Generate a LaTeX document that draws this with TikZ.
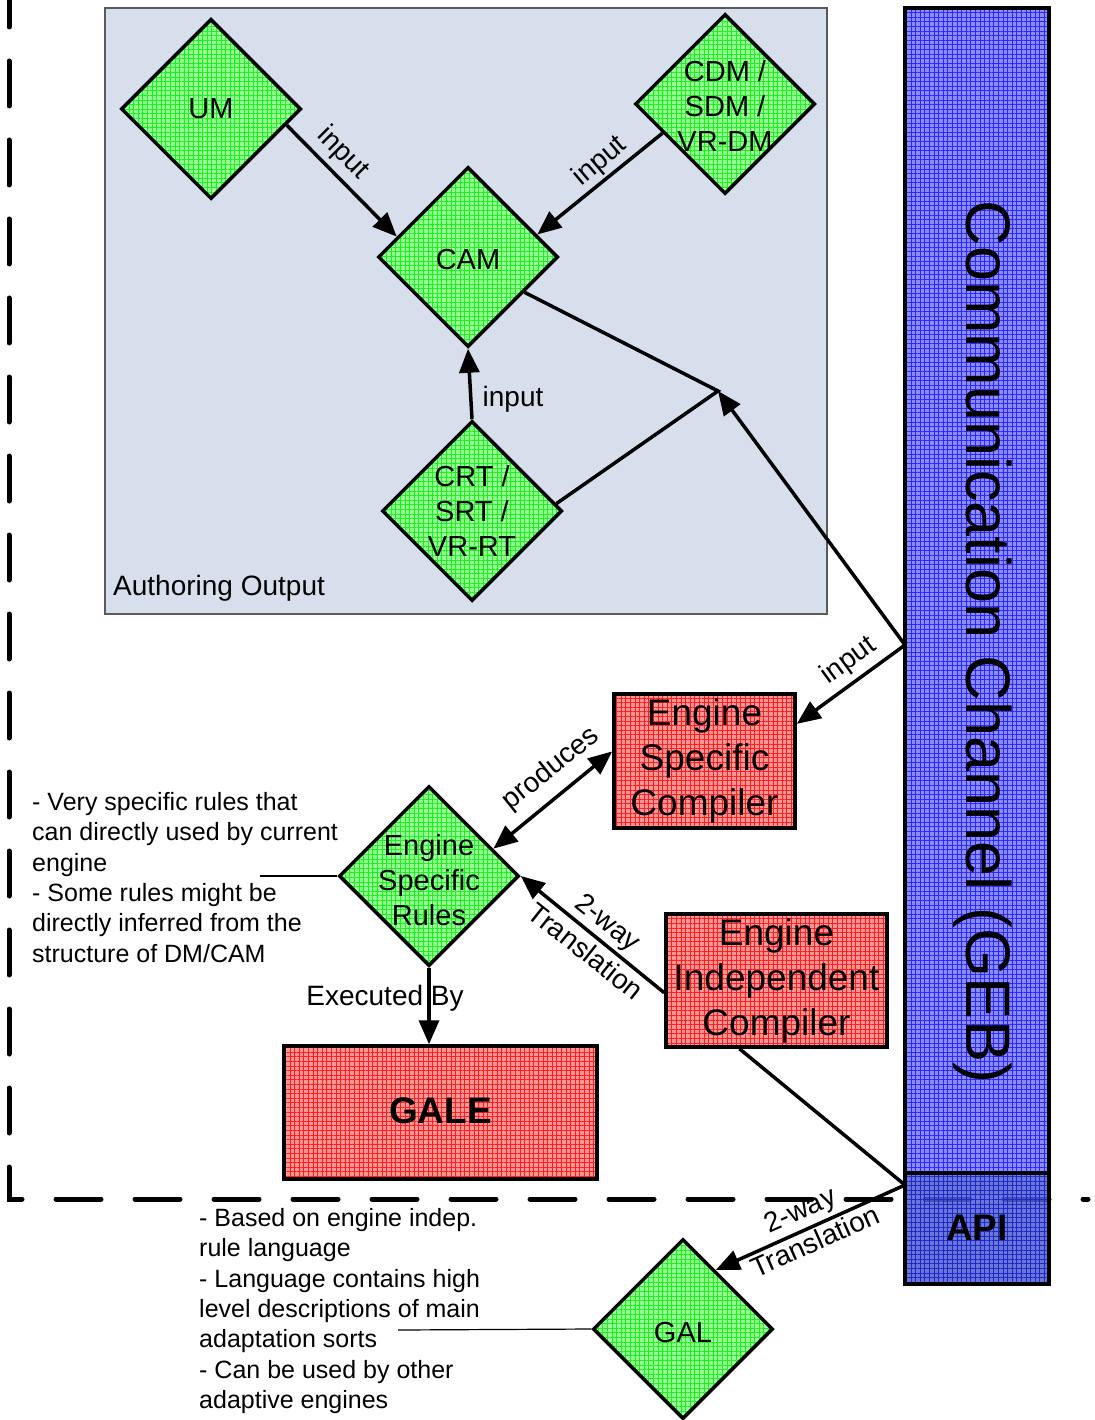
\documentclass[tikz,border=0pt]{standalone}
\usepackage{fontspec}
\setmainfont{Liberation Sans}
\usetikzlibrary{arrows.meta,patterns.meta,shapes.geometric,calc}

\definecolor{gbase}{RGB}{150,255,150}
\definecolor{ggrid}{RGB}{30,240,30}
\definecolor{rbase}{RGB}{255,150,150}
\definecolor{rgrid}{RGB}{255,30,30}
\definecolor{bbase}{RGB}{140,140,255}
\definecolor{bgrid}{RGB}{40,40,255}
\definecolor{abase}{RGB}{80,95,210}
\definecolor{agrid}{RGB}{30,40,200}
\definecolor{authfill}{RGB}{214,223,235}
\definecolor{authline}{RGB}{90,90,90}

\tikzset{
  gridfill/.style 2 args={preaction={fill=#1},
    preaction={pattern={Hatch[distance=4.6pt,angle=0,line width=0.45pt]}, pattern color=#2}},
  dia/.style={shape=diamond, aspect=1, minimum width=180pt, minimum height=180pt,
    inner sep=0pt, draw=black, line width=3.5pt, gridfill={gbase}{ggrid}},
  rbox/.style={shape=rectangle, inner sep=0pt, draw=black, line width=3.5pt, gridfill={rbase}{rgrid}},
  authbox/.style={draw=authline, line width=1.2pt, fill=authfill, inner sep=0pt,
    minimum width=722pt, minimum height=606pt},
  commbox/.style={draw=black, line width=3.5pt, inner sep=0pt, gridfill={bbase}{bgrid},
    minimum width=144pt, minimum height=1165pt},
  apibox/.style={draw=black, line width=3.5pt, inner sep=0pt,
    preaction={fill=abase, fill opacity=0.85},
    preaction={pattern={Hatch[distance=4.6pt,angle=0,line width=0.45pt]}, pattern color=agrid},
    minimum width=144pt, minimum height=111pt},
  dtext/.style={font=\fontsize{29}{35}\selectfont, align=center, inner sep=0pt},
  rtext/.style={font=\fontsize{37}{45}\selectfont, align=center, inner sep=0pt},
  btext/.style={font=\fontsize{37}{45}\selectfont\bfseries, inner sep=0pt},
  commtext/.style={font=\fontsize{63}{70}\selectfont, inner sep=0pt},
  lbl/.style={font=\fontsize{28}{34}\selectfont, inner sep=1pt},
  note/.style={font=\fontsize{25}{30.4}\selectfont, align=left, inner sep=0pt, anchor=north west},
  conn/.style={line width=3.5pt},
  arr/.style={conn, -{Triangle[length=24pt,width=20pt]}},
  darr/.style={conn, {Triangle[length=24pt,width=20pt]}-{Triangle[length=24pt,width=20pt]}},
  noteline/.style={line width=1.2pt},
}

\begin{document}
\begin{tikzpicture}[x=1pt,y=-1pt]
\useasboundingbox (0,0) rectangle (1094,1420);

% boundary of the engine area
\draw[line width=5pt, line cap=round, dash pattern=on 45pt off 34pt] (9,-18) -- (9,1199) -- (1088,1199);

% authoring output area
\node[authbox] (auth) at (466,311) {};
\node[lbl, anchor=west] (authT) at (112,588) {Authoring Output};

% communication channel
\node[commbox] (comm) at (977,590.5) {};
\node[apibox] (api) at (977,1228.5) {};
\node[commtext, rotate=-90] (commT) at (983,642) {Communication Channel (GEB)};
\node[btext] (apiT) at (977,1228) {API};

% diamonds
\node[dia] (um) at (211,109) {};
\node[dtext] (umT) at (um) {UM};
\node[dia] (cdm) at (725,104) {};
\node[dtext] (cdmT) at (725,106) {CDM /\\SDM /\\VR-DM};
\node[dia] (cam) at (468,257) {};
\node[dtext] (camT) at (468,260) {CAM};
\node[dia] (crt) at (472,511) {};
\node[dtext] (crtT) at (472,511) {CRT /\\SRT /\\VR-RT};
\node[dia] (esr) at (429,876) {};
\node[dtext] (esrT) at (429,880) {Engine\\Specific\\Rules};
\node[dia] (gal) at (683,1329) {};
\node[dtext] (galT) at (683,1332) {GAL};

% rectangles
\node[rbox, minimum width=181pt, minimum height=134pt] (esc) at (704.5,761) {};
\node[rtext] (escT) at (704.5,761) {Engine\\Specific\\Compiler};
\node[rbox, minimum width=221pt, minimum height=133pt] (eic) at (776.5,980.5) {};
\node[rtext] (eicT) at (776.5,981) {Engine\\Independent\\Compiler};
\node[rbox, minimum width=313pt, minimum height=133pt] (gale) at (440.5,1112.5) {};
\node[btext] (galeT) at (440.5,1111) {GALE};

% free ends
\coordinate (junc) at (718,391);
\coordinate (tapIn) at (905,645);
\coordinate (tapGal) at (905,1185);
\coordinate (noteA) at (260,876);
\coordinate (noteB) at (398,1330);

% connectors
\draw[arr] (um.-12) -- (cam.164);
\draw[arr] (cdm.205) -- (cam.18);
\draw[arr] (crt.north) -- (cam.south);
\draw[conn] (cam.-32) -- (junc) -- (crt.5);
\draw[arr] (tapIn) -- (junc);
\draw[arr] (tapIn) -- ($(esc.north east)!0.23!(esc.south east)$);
\draw[darr] ($(esc.north west)!0.43!(esc.south west)$) -- (esr.23);
\draw[arr] ($(eic.north west)!0.59!(eic.south west)$) -- (esr.east);
\draw[arr] (esr.south) -- (esr.south |- gale.north);
\draw[conn] ($(eic.south west)!0.335!(eic.south east)$) -- (tapGal);
\draw[arr] (tapGal) -- (gal.61);

% connector labels
\node[lbl, rotate=-45] (l1) at (343,153) {input};
\node[lbl, rotate=40] (l2) at (600,161) {input};
\node[lbl] (l3) at (513,399) {input};
\node[lbl, rotate=36] (l4) at (849,661) {input};
\node[lbl, rotate=38.7] (l5) at (551,769) {produces};
\node[lbl, rotate=-38.5] (l6) at (607,924) {2-way};
\node[lbl, rotate=-38.5] (l7) at (586,951) {Translation};
\node[lbl] (l8) at (385,998) {Executed By};
\node[lbl, rotate=24] (l9) at (801,1212) {2-way};
\node[lbl, rotate=24] (l10) at (815,1241) {Translation};

% annotations
\node[note] (noteEsr) at (32,792) {- Very specific rules that\\can directly used by current\\engine\\- Some rules might be\\directly inferred from the\\structure of DM/CAM};
\draw[noteline] (noteA) -- (esr.west);
\node[note] (noteGal) at (199,1208) {- Based on engine indep.\\rule language\\- Language contains high\\level descriptions of main\\adaptation sorts\\- Can be used by other\\adaptive engines};
\draw[noteline] (noteB) -- (gal.west);
\end{tikzpicture}
\end{document}
